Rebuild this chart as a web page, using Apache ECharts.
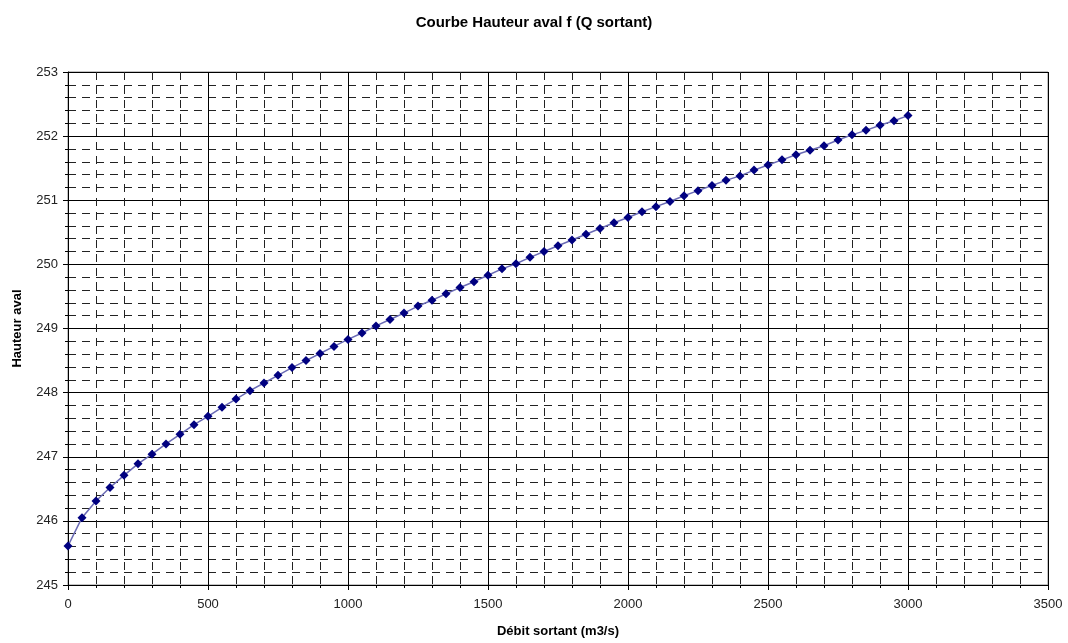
<!DOCTYPE html>
<html>
<head>
<meta charset="utf-8">
<script src="https://cdn.jsdelivr.net/npm/echarts@6/dist/echarts.min.js"></script>
<style>
html,body{margin:0;padding:0;background:#fff;}
#c{width:1068px;height:643px;}
</style>
</head>
<body>
<div id="c"></div>
<script>
const debit = [0,50,100,150,200,250,300,350,400,450,500,550,600,650,700,750,800,850,900,950,1000,1050,1100,1150,1200,1250,1300,1350,1400,1450,1500,1550,1600,1650,1700,1750,1800,1850,1900,1950,2000,2050,2100,2150,2200,2250,2300,2350,2400,2450,2500,2550,2600,2650,2700,2750,2800,2850,2900,2950,3000];
const hauteur = [245.61,246.05,246.31,246.52,246.71,246.89,247.04,247.20,247.35,247.50,247.63,247.77,247.90,248.03,248.15,248.27,248.39,248.50,248.61,248.72,248.83,248.93,249.04,249.14,249.24,249.35,249.44,249.54,249.64,249.73,249.83,249.93,250.01,250.11,250.20,250.29,250.38,250.47,250.56,250.65,250.73,250.82,250.90,250.98,251.07,251.15,251.23,251.31,251.38,251.47,251.55,251.63,251.71,251.78,251.85,251.94,252.02,252.09,252.17,252.24,252.32];
const titleText = 'Courbe Hauteur aval f (Q sortant)';
const xName = 'Débit sortant (m3/s)';
const yName = 'Hauteur aval';

const chart = echarts.init(document.getElementById('c'));
const font = 'Liberation Sans, Arial, sans-serif';
chart.setOption({
  animation: false,
  backgroundColor: '#ffffff',
  title: {
    text: titleText, left: 'center', top: 10,
    textStyle: {fontFamily: font, fontSize: 15, fontWeight: 'bold', color: '#000'}
  },
  grid: {left: 68, right: 20, top: 72, bottom: 52, show: true, borderColor: '#888', borderWidth: 1, backgroundColor: 'transparent'},
  xAxis: {
    type: 'value', min: 0, max: 3500, interval: 500,
    name: xName, nameLocation: 'middle', nameGap: 40,
    nameTextStyle: {fontFamily: font, fontSize: 13, fontWeight: 'bold', color: '#000'},
    axisLine: {show: true, lineStyle: {color: '#000', width: 1}},
    axisTick: {show: true, length: 5, lineStyle: {color: '#000'}},
    minorTick: {show: true, splitNumber: 5, length: 3, lineStyle: {color: '#000'}},
    axisLabel: {fontFamily: font, fontSize: 13, color: '#222', margin: 13, formatter: v => String(v)},
    splitLine: {show: true, lineStyle: {color: '#000', width: 1}},
    minorSplitLine: {show: true, lineStyle: {color: '#222', width: 1, type: [8, 6]}}
  },
  yAxis: {
    type: 'value', min: 245, max: 253, interval: 1,
    name: yName, nameLocation: 'middle', nameGap: 44, nameRotate: 90,
    nameTextStyle: {fontFamily: font, fontSize: 13, fontWeight: 'bold', color: '#000'},
    axisLine: {show: true, lineStyle: {color: '#000', width: 1}},
    axisTick: {show: true, length: 5, lineStyle: {color: '#000'}},
    minorTick: {show: true, splitNumber: 5, length: 3, lineStyle: {color: '#000'}},
    axisLabel: {fontFamily: font, fontSize: 13, color: '#222', margin: 10, formatter: v => String(v)},
    splitLine: {show: true, lineStyle: {color: '#000', width: 1}},
    minorSplitLine: {show: true, lineStyle: {color: '#222', width: 1, type: [8, 6]}}
  },
  series: [{
    type: 'line',
    data: debit.map((d, i) => [d, hauteur[i]]),
    symbol: 'diamond', symbolSize: 9,
    itemStyle: {color: '#000080'},
    lineStyle: {color: '#6a6ab4', width: 1.5},
    z: 5
  }]
});
</script>
</body>
</html>
